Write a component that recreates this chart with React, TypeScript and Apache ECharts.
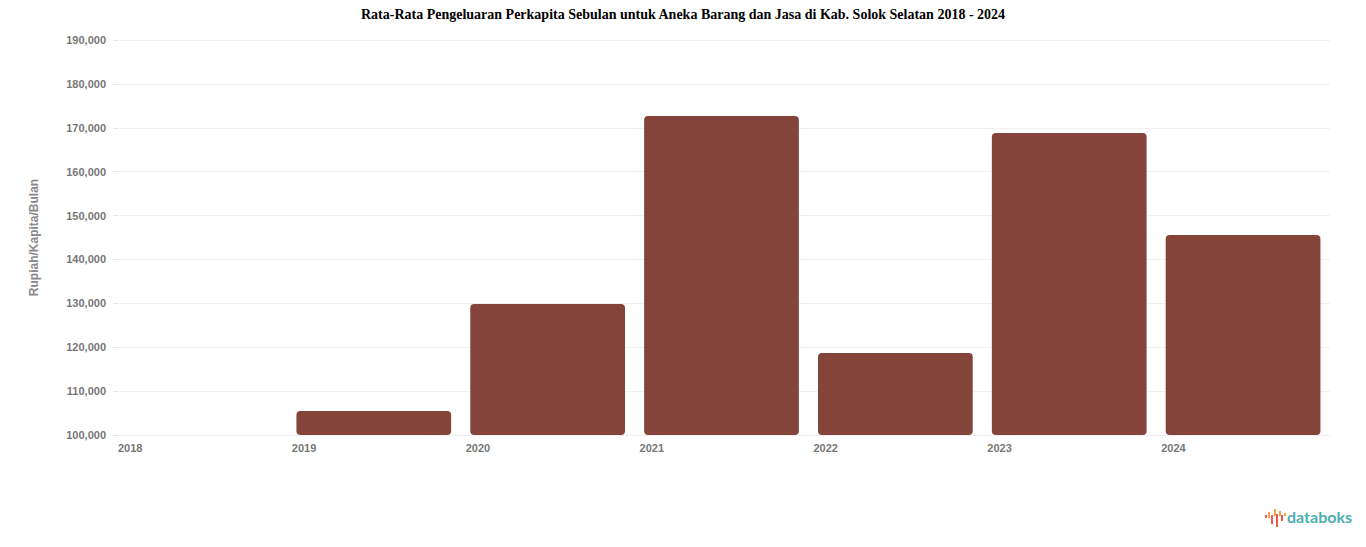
import React, { useEffect, useRef } from 'react';
import * as echarts from 'echarts';

const years = ['2018', '2019', '2020', '2021', '2022', '2023', '2024'];
const spending = [100000, 105470, 129840, 172660, 118680, 168790, 145560];

const titleText = 'Rata-Rata Pengeluaran Perkapita Sebulan untuk Aneka Barang dan Jasa di Kab. Solok Selatan 2018 - 2024';
const yAxisName = 'Rupiah/Kapita/Bulan';

// logo waveform: [x, top, height, colour]
const logoBars: [number, number, number, string][] = [
  [1265, 515, 3, '#ee5a4a'],
  [1268, 512, 6, '#f2a24a'],
  [1271, 515, 9, '#ee5a4a'],
  [1274, 509, 7, '#f2a24a'],
  [1276, 514, 13, '#ee5a4a'],
  [1279, 511, 5, '#f2a24a'],
  [1281, 515, 6, '#ee5a4a'],
  [1284, 513, 3, '#f2a24a'],
];

const App: React.FC = () => {
  const chartRef = useRef<HTMLDivElement>(null);

  useEffect(() => {
    document.body.style.margin = '0';
    if (!chartRef.current) return;
    const chart = echarts.init(chartRef.current, undefined, { renderer: 'svg' });

    const option: echarts.EChartsOption = {
      animation: false,
      title: {
        text: titleText,
        left: 'center',
        top: 2,
        textStyle: {
          fontFamily: 'Liberation Serif',
          fontSize: 14,
          fontWeight: 'bold',
          color: '#000',
        },
      },
      grid: { left: 113, right: 36, top: 40, bottom: 112 },
      xAxis: [
        {
          type: 'category',
          data: years,
          axisLine: { show: false },
          axisTick: { show: false },
          axisLabel: { show: false },
        },
        {
          // labels sit on the category boundaries, like the original
          type: 'category',
          position: 'bottom',
          boundaryGap: false,
          data: [...years, ''],
          axisLine: { show: true, lineStyle: { color: '#eeeeee' } },
          axisTick: { show: false },
          axisLabel: {
            align: 'left',
            margin: 7,
            padding: [0, 0, 0, 5],
            color: '#777',
            fontSize: 11,
            fontWeight: 'bold',
            fontFamily: 'Liberation Sans',
          },
        },
      ],
      yAxis: {
        type: 'value',
        min: 100000,
        max: 190000,
        interval: 10000,
        name: yAxisName,
        nameLocation: 'middle',
        nameGap: 73,
        nameTextStyle: { color: '#888', fontSize: 12, fontFamily: 'Liberation Sans', fontWeight: 'bold' },
        axisLine: { show: false },
        axisTick: { show: true, length: 5, inside: true, lineStyle: { color: '#e6e6e6' } },
        splitLine: { lineStyle: { color: '#f0f0f0' } },
        axisLabel: {
          margin: 7,
          color: '#777',
          fontSize: 11,
          fontWeight: 'bold',
          fontFamily: 'Liberation Sans',
          formatter: (v: number) => v.toLocaleString('en-US'),
        },
      },
      series: [
        {
          type: 'bar',
          xAxisIndex: 0,
          data: spending,
          barCategoryGap: '11%',
          itemStyle: { color: '#84443a', borderRadius: 4 },
        },
      ],
      graphic: [
        ...logoBars.map(([x, y, h, c]) => ({
          type: 'rect' as const,
          left: x,
          top: y,
          shape: { width: 2, height: h },
          style: { fill: c },
        })),
        {
          type: 'text',
          left: 1287,
          top: 508,
          style: {
            text: 'databoks',
            fill: '#4bb0ae',
            fontSize: 16,
            fontFamily: 'Lato',
            fontWeight: 'bold',
          },
        },
      ],
    };

    chart.setOption(option);
    const handleResize = () => chart.resize();
    window.addEventListener('resize', handleResize);
    return () => {
      window.removeEventListener('resize', handleResize);
      chart.dispose();
    };
  }, []);

  return <div ref={chartRef} style={{ width: '1366px', height: '547px' }} />;
};

export default App;
